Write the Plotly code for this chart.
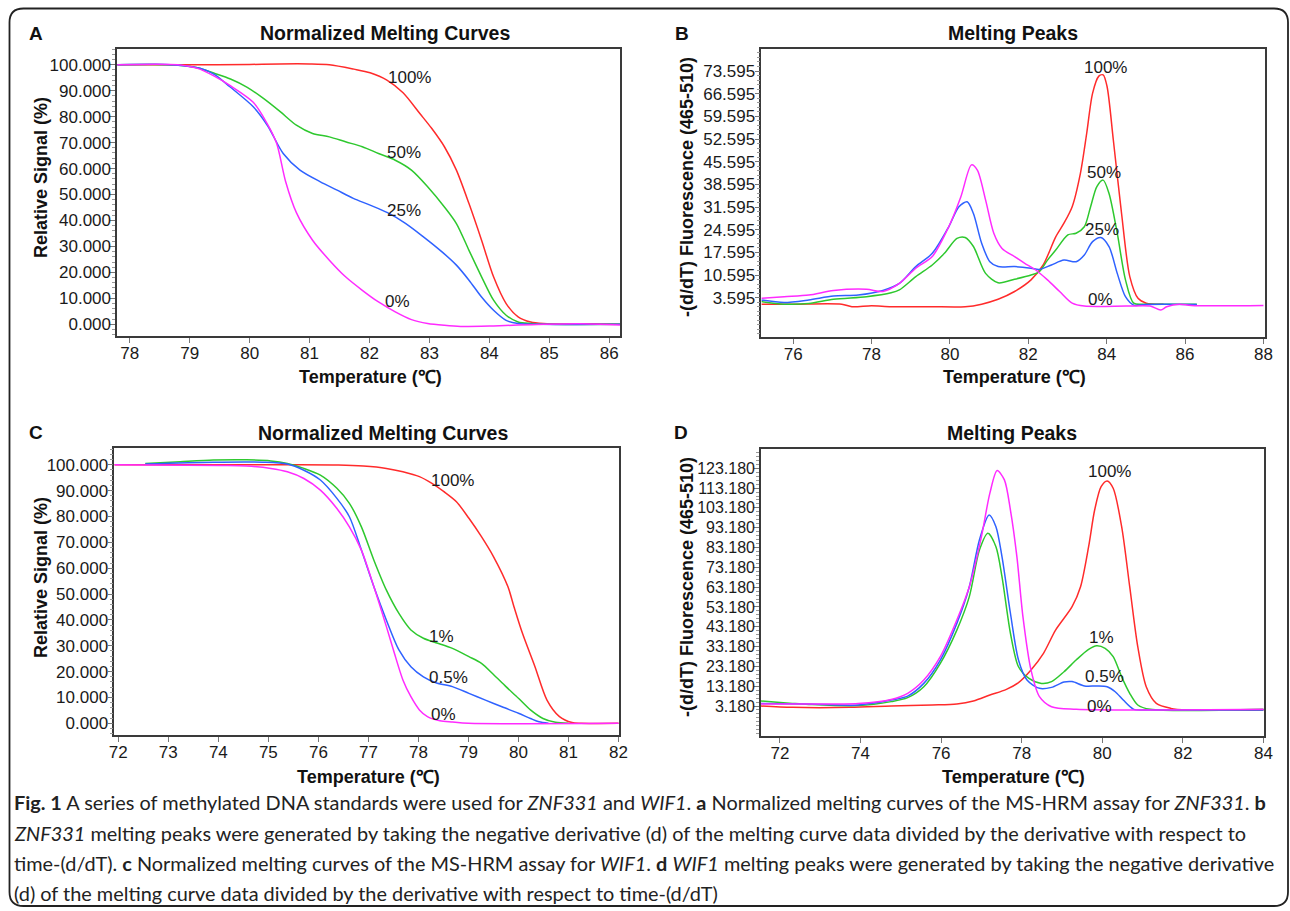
import plotly.graph_objects as go

W, H = 1290, 911
def px(x): return x / W
def py(y): return 1 - y / H

# ---------------- DATA ----------------
# Panel A: ZNF331 normalized melting curves
A_red_T = [77.79, 79.0, 80.0, 80.5, 81.0, 81.33, 81.74, 82.01, 82.29, 82.56, 82.84, 83.04, 83.25, 83.45, 83.66, 83.87, 84.07, 84.28, 84.48, 84.69, 84.9, 85.3, 85.7, 86.18]
A_red_V = [100.0, 100.0, 100.1, 100.3, 100.3, 100.0, 98.3, 96.9, 94.1, 89.2, 81.2, 75.4, 68.4, 59.4, 46.5, 32.4, 18.3, 8.0, 2.9, 0.9, 0.3, 0.1, 0.2, 0.0]
A_grn_T = [77.79, 78.6, 78.86, 79.13, 79.41, 79.68, 79.96, 80.23, 80.51, 80.78, 81.05, 81.33, 81.6, 81.88, 82.15, 82.43, 82.70, 82.97, 83.25, 83.45, 83.66, 83.87, 84.07, 84.28, 84.48, 84.69, 85.0, 86.18]
A_grn_V = [100.0, 100.0, 99.7, 98.8, 96.7, 94.5, 91.3, 87.0, 81.9, 76.7, 73.5, 72.2, 70.3, 68.4, 65.8, 63.2, 59.4, 53.0, 45.2, 38.8, 28.5, 18.3, 9.3, 3.5, 0.9, 0.3, 0.0, 0.0]
A_blu_T = [77.79, 78.6, 78.9, 79.17, 79.41, 79.67, 80.06, 80.3, 80.56, 80.84, 81.18, 81.45, 81.73, 82.0, 82.3, 82.6, 82.9, 83.2, 83.45, 83.66, 83.87, 84.07, 84.28, 84.48, 84.8, 86.18]
A_blu_V = [100.0, 100.1, 99.6, 98.6, 96.3, 91.5, 83.8, 76.5, 65.8, 59.4, 54.9, 51.8, 48.5, 46.0, 43.0, 38.9, 33.7, 28.1, 22.8, 17.0, 10.5, 5.4, 1.5, 0.3, 0.0, 0.0]
A_mag_T = [77.79, 78.8, 79.13, 79.41, 79.67, 80.06, 80.29, 80.45, 80.6, 80.78, 81.05, 81.33, 81.6, 81.88, 82.15, 82.43, 82.70, 82.97, 83.25, 83.52, 84.07, 84.48, 84.9, 85.5, 86.18]
A_mag_V = [100.0, 100.0, 98.6, 95.6, 92.0, 85.5, 77.4, 69.7, 55.0, 43.0, 32.4, 24.7, 18.3, 13.1, 8.6, 4.8, 1.8, 0.3, -0.4, -0.8, -0.6, -0.3, 0.0, 0.2, -0.3]
A_labels = ["100%", "50%", "25%", "0%"]
A_label_T = [82.67, 82.57, 82.57, 82.47]
A_label_V = [95.1, 66.1, 43.7, 8.6]

# Panel B: ZNF331 melting peaks
B_red_T = [75.19, 76.0, 77.24, 77.5, 78.0, 78.5, 79.5, 80.39, 80.81, 81.23, 81.65, 82.07, 82.38, 82.70, 82.91, 83.12, 83.33, 83.49, 83.64, 83.80, 83.91, 84.01, 84.17, 84.38, 84.59, 84.80, 85.01, 85.45]
B_red_V = [1.6, 1.6, 1.6, 0.8, 1.1, 0.8, 0.8, 0.8, 1.6, 3.1, 5.5, 9.1, 13.7, 22.4, 26.6, 31.7, 42.0, 54.3, 66.7, 72.0, 72.4, 68.8, 52.3, 29.6, 10.1, 3.4, 1.9, 1.6]
B_grn_T = [75.19, 75.77, 76.4, 77.03, 77.87, 78.5, 78.71, 79.13, 79.55, 79.86, 80.18, 80.39, 80.6, 80.91, 81.23, 81.65, 82.07, 82.28, 82.49, 82.7, 83.01, 83.22, 83.43, 83.59, 83.75, 83.91, 84.06, 84.27, 84.48, 84.69, 85.0, 86.3]
B_grn_V = [2.4, 1.6, 1.8, 3.1, 3.9, 5.1, 6.0, 10.1, 13.7, 17.3, 21.9, 22.2, 19.4, 11.1, 8.2, 9.3, 10.6, 11.6, 15.2, 18.3, 23.0, 23.5, 25.5, 31.7, 37.9, 39.9, 35.8, 23.5, 9.1, 1.9, 1.6, 1.6]
B_blu_T = [75.19, 75.77, 76.4, 77.03, 77.66, 78.29, 78.71, 79.13, 79.55, 79.97, 80.23, 80.44, 80.6, 80.81, 81.02, 81.23, 81.65, 82.07, 82.28, 82.59, 82.91, 83.22, 83.43, 83.64, 83.85, 84.06, 84.27, 84.48, 84.69, 85.0, 86.3]
B_blu_V = [2.9, 2.1, 2.9, 4.1, 4.4, 5.8, 8.0, 13.2, 17.3, 25.5, 31.7, 33.2, 29.6, 20.4, 14.7, 13.2, 13.2, 12.7, 12.3, 13.7, 15.2, 14.7, 16.8, 20.9, 22.2, 19.4, 11.1, 3.9, 1.3, 1.5, 1.5]
B_mag_T = [75.19, 75.77, 76.4, 77.03, 77.87, 78.29, 78.71, 79.13, 79.55, 79.97, 80.28, 80.55, 80.7, 80.91, 81.12, 81.33, 81.65, 81.91, 82.17, 82.49, 82.8, 83.12, 83.43, 84.5, 85.11, 85.38, 85.53, 85.85, 86.16, 88.0]
B_mag_V = [3.4, 3.9, 4.4, 5.8, 6.2, 5.5, 8.0, 12.7, 16.3, 25.5, 34.8, 44.6, 43.0, 33.8, 23.5, 18.8, 16.3, 14.2, 12.3, 9.1, 5.5, 1.9, 1.0, 1.0, 1.0, -0.2, 0.8, 1.6, 1.2, 1.2]
B_labels = ["100%", "50%", "25%", "0%"]
B_label_T = [83.96, 83.92, 83.87, 83.85]
B_label_V = [74.6, 42.2, 24.5, 2.9]

# Panel C: WIF1 normalized melting curves
C_red_T = [71.92, 74.0, 75.4, 76.4, 76.9, 77.36, 77.69, 78.02, 78.27, 78.51, 78.76, 79.01, 79.26, 79.5, 79.79, 79.91, 80.08, 80.33, 80.57, 80.82, 81.07, 81.25, 82.0]
C_red_V = [100.0, 100.0, 100.0, 99.9, 99.5, 98.6, 97.3, 95.4, 92.8, 89.6, 85.7, 79.3, 72.2, 64.5, 52.8, 45.1, 34.8, 21.9, 9.0, 2.6, 0.3, 0.0, 0.0]
C_grn_T = [72.54, 73.24, 73.9, 74.56, 75.05, 75.38, 75.71, 76.04, 76.37, 76.62, 76.86, 77.11, 77.36, 77.61, 77.85, 78.1, 78.35, 78.68, 79.01, 79.26, 79.51, 79.75, 80.0, 80.24, 80.49, 80.74, 81.0]
C_grn_V = [100.5, 101.2, 101.8, 101.9, 101.5, 100.5, 98.6, 96.0, 90.9, 85.1, 76.0, 63.1, 51.5, 42.5, 36.1, 32.9, 31.2, 29.0, 25.8, 23.2, 18.7, 14.2, 9.7, 5.2, 1.9, 0.4, 0.0]
C_blu_T = [72.54, 73.9, 74.89, 75.38, 75.71, 76.04, 76.37, 76.62, 76.86, 77.11, 77.36, 77.61, 77.85, 78.1, 78.35, 78.68, 79.01, 79.34, 79.67, 80.0, 80.24, 80.41, 80.6]
C_blu_V = [100.3, 101.0, 101.0, 100.3, 97.9, 94.1, 87.0, 79.9, 67.0, 52.8, 39.9, 28.4, 21.9, 18.0, 15.7, 14.2, 11.6, 9.0, 6.4, 3.9, 1.9, 0.6, 0.0]
C_mag_T = [71.92, 74.06, 74.56, 75.05, 75.38, 75.71, 76.04, 76.37, 76.62, 76.86, 77.11, 77.36, 77.52, 77.69, 77.85, 78.02, 78.18, 78.43, 78.68, 79.0, 82.0]
C_mag_V = [100.0, 99.7, 99.5, 98.6, 97.3, 94.7, 90.2, 83.1, 76.0, 67.0, 52.8, 37.4, 27.1, 16.8, 10.3, 5.2, 2.6, 1.0, 0.5, 0.0, 0.0]
C_labels = ["100%", "1%", "0.5%", "0%"]
C_label_T = [78.69, 78.46, 78.61, 78.5]
C_label_V = [93.8, 33.5, 17.7, 3.6]

# Panel D: WIF1 melting peaks
D_red_T = [71.53, 72.31, 73.74, 74.76, 75.78, 76.39, 76.8, 77.21, 77.62, 77.92, 78.23, 78.54, 78.84, 79.25, 79.46, 79.66, 79.81, 79.97, 80.12, 80.27, 80.48, 80.68, 80.88, 81.09, 81.34, 81.7, 82.11, 84.0]
D_red_V = [3.2, 2.5, 2.5, 3.2, 3.7, 4.2, 5.7, 8.7, 11.6, 15.0, 21.4, 29.8, 41.5, 53.3, 63.4, 83.6, 102.1, 113.9, 116.8, 113.1, 93.7, 63.4, 33.1, 12.9, 4.5, 2.0, 1.2, 1.2]
D_grn_T = [71.53, 72.31, 72.71, 73.94, 74.76, 75.17, 75.57, 75.98, 76.39, 76.7, 76.95, 77.16, 77.36, 77.51, 77.72, 77.92, 78.18, 78.49, 78.74, 79.05, 79.35, 79.66, 79.86, 80.07, 80.27, 80.48, 80.68, 80.88, 81.19, 84.0]
D_grn_V = [5.7, 4.5, 4.0, 3.4, 5.4, 7.4, 12.9, 24.7, 41.5, 58.4, 81.9, 90.4, 83.6, 68.5, 39.9, 23.0, 17.1, 14.6, 15.5, 20.5, 26.4, 31.8, 33.6, 32.3, 28.1, 17.9, 9.6, 3.7, 1.5, 1.5]
D_blu_T = [71.53, 72.71, 73.94, 74.76, 75.17, 75.57, 75.98, 76.39, 76.7, 76.95, 77.19, 77.36, 77.51, 77.72, 77.92, 78.13, 78.44, 78.74, 79.05, 79.25, 79.56, 79.86, 80.12, 80.32, 80.52, 80.78, 81.09, 84.0]
D_blu_V = [4.5, 4.2, 3.7, 6.2, 8.2, 14.6, 26.4, 44.9, 63.4, 87.0, 99.6, 93.7, 78.6, 50.0, 26.4, 16.3, 12.1, 12.6, 15.3, 15.5, 13.3, 13.3, 12.9, 10.4, 6.2, 1.5, 1.2, 1.2]
D_mag_T = [71.53, 72.71, 73.94, 74.76, 75.17, 75.57, 75.98, 76.39, 76.7, 77.0, 77.21, 77.39, 77.57, 77.72, 77.88, 78.03, 78.23, 78.44, 78.74, 79.35, 84.0]
D_mag_V = [4.2, 4.2, 4.5, 6.5, 9.6, 16.3, 28.1, 46.6, 63.4, 88.7, 110.6, 122.0, 117.3, 102.1, 78.6, 48.3, 21.4, 7.9, 2.8, 1.5, 1.5]
D_labels = ["100%", "1%", "0.5%", "0%"]
D_label_T = [80.19, 79.98, 80.06, 79.92]
D_label_V = [121.5, 37.85, 18.0, 2.8]

# Axis ticks
A_xticks = [78, 79, 80, 81, 82, 83, 84, 85, 86]
A_yticks = [0, 10, 20, 30, 40, 50, 60, 70, 80, 90, 100]
B_xticks = [76, 78, 80, 82, 84, 86, 88]
B_yticks = [3.595, 10.595, 17.595, 24.595, 31.595, 38.595, 45.595, 52.595, 59.595, 66.595, 73.595]
C_xticks = [72, 73, 74, 75, 76, 77, 78, 79, 80, 81, 82]
C_yticks = [0, 10, 20, 30, 40, 50, 60, 70, 80, 90, 100]
D_xticks = [72, 74, 76, 78, 80, 82, 84]
D_yticks = [3.18, 13.18, 23.18, 33.18, 43.18, 53.18, 63.18, 73.18, 83.18, 93.18, 103.18, 113.18, 123.18]

panel_letters = ["A", "B", "C", "D"]
panel_titles = ["Normalized Melting Curves", "Melting Peaks", "Normalized Melting Curves", "Melting Peaks"]
y_titles = ["Relative Signal (%)", "-(d/dT) Fluorescence (465-510)", "Relative Signal (%)", "-(d/dT) Fluorescence (465-510)"]
x_title = "Temperature (℃)"

caption_lines = [
    "<b>Fig. 1</b> A series of methylated DNA standards were used for <i>ZNF331</i> and <i>WIF1</i>. <b>a</b> Normalized melting curves of the MS-HRM assay for <i>ZNF331</i>. <b>b</b>",
    "<i>ZNF331</i> melting peaks were generated by taking the negative derivative (d) of the melting curve data divided by the derivative with respect to",
    "time-(d/dT). <b>c</b> Normalized melting curves of the MS-HRM assay for <i>WIF1</i>. <b>d</b> <i>WIF1</i> melting peaks were generated by taking the negative derivative",
    "(d) of the melting curve data divided by the derivative with respect to time-(d/dT)",
]

# ---------------- STYLE / LAYOUT ----------------
COL = {"red": "#ff2b2b", "grn": "#2ec82e", "blu": "#2f62ff", "mag": "#ff2bff"}
AX_FONT = "Liberation Sans, Arial, sans-serif"

panels = [
    dict(series=[(A_red_T, A_red_V, "red"), (A_grn_T, A_grn_V, "grn"), (A_blu_T, A_blu_V, "blu"), (A_mag_T, A_mag_V, "mag")],
         labels=(A_labels, A_label_T, A_label_V), xt=A_xticks, yt=A_yticks,
         xr=[77.79, 86.18], yr=[-4.5, 106.05], xd=[117.2, 620], yd=[49, 336],
         minor=dict(tick0=0, dtick=2), yfs=17),
    dict(series=[(B_red_T, B_red_V, "red"), (B_grn_T, B_grn_V, "grn"), (B_blu_T, B_blu_V, "blu"), (B_mag_T, B_mag_V, "mag")],
         labels=(B_labels, B_label_T, B_label_V), xt=B_xticks, yt=B_yticks,
         xr=[75.19, 88.04], yr=[-8.45, 80.39], xd=[761.4, 1265], yd=[49, 336.7],
         minor=dict(tick0=3.595, dtick=1.4), yfs=17),
    dict(series=[(C_red_T, C_red_V, "red"), (C_grn_T, C_grn_V, "grn"), (C_blu_T, C_blu_V, "blu"), (C_mag_T, C_mag_V, "mag")],
         labels=(C_labels, C_label_T, C_label_V), xt=C_xticks, yt=C_yticks,
         xr=[71.92, 82.01], yr=[-4.5, 106.6], xd=[114.3, 619], yd=[447.7, 735],
         minor=dict(tick0=0, dtick=2), yfs=17),
    dict(series=[(D_red_T, D_red_V, "red"), (D_grn_T, D_grn_V, "grn"), (D_blu_T, D_blu_V, "blu"), (D_mag_T, D_mag_V, "mag")],
         labels=(D_labels, D_label_T, D_label_V), xt=D_xticks, yt=D_yticks,
         xr=[71.53, 84.02], yr=[-11.8, 132.9], xd=[761, 1264.3], yd=[449, 735.7],
         minor=dict(tick0=3.18, dtick=2), yfs=16),
]

title_pos = [(385, 33), (1013, 33), (383, 433), (1012, 433)]
letter_pos = [(36, 33), (682, 33), (36, 433), (681, 433)]
ytitle_pos = [(41, 178), (687, 187), (41, 578), (687, 587)]
xtitle_pos = [(370, 377), (1015, 377), (368, 777), (1013, 777)]

fig = go.Figure()
layout = dict(
    width=W, height=H, autosize=False,
    margin=dict(l=0, r=0, t=0, b=0, pad=0, autoexpand=False),
    paper_bgcolor="white", plot_bgcolor="white", showlegend=False,
    annotations=[], shapes=[],
)

for i, p in enumerate(panels):
    n = "" if i == 0 else str(i + 1)
    xa, ya = "x" + n, "y" + n
    for T, V, c in p["series"]:
        fig.add_trace(go.Scatter(x=T, y=V, mode="lines", xaxis=xa, yaxis=ya,
                                 line=dict(color=COL[c], width=1.5, shape="spline", smoothing=0.8),
                                 hoverinfo="skip"))
    axis_common = dict(showgrid=False, zeroline=False, showline=True, mirror=True,
                       automargin=False,
                       linecolor="#3a3a3a", linewidth=1.6, ticks="outside",
                       tickcolor="#777", tickwidth=1, ticklen=5)
    layout["xaxis" + n] = dict(axis_common, domain=[px(p["xd"][0]), px(p["xd"][1])],
                               range=p["xr"], tickmode="array", tickvals=p["xt"],
                               ticktext=[str(v) for v in p["xt"]],
                               tickfont=dict(family=AX_FONT, size=17, color="#1a1a1a"),
                               ticklabelstandoff=-4,
                               anchor=ya)
    layout["yaxis" + n] = dict(axis_common, domain=[py(p["yd"][1]), py(p["yd"][0])],
                               range=p["yr"], tickmode="array", tickvals=p["yt"],
                               ticktext=["%.3f" % v for v in p["yt"]],
                               tickfont=dict(family=AX_FONT, size=p["yfs"], color="#1a1a1a"),
                               ticklabelstandoff=-4,
                               anchor=xa,
                               minor=dict(tickmode="linear", tick0=p["minor"]["tick0"],
                                          dtick=p["minor"]["dtick"], ticks="outside",
                                          ticklen=3, tickcolor="#999", tickwidth=1))
    labs, lt, lv = p["labels"]
    for t, x, y in zip(labs, lt, lv):
        layout["annotations"].append(dict(text=t, x=x, y=y, xref=xa, yref=ya, showarrow=False,
                                          xanchor="center", yanchor="middle",
                                          font=dict(family=AX_FONT, size=17, color="#1a1a1a")))
    tx, ty = title_pos[i]
    layout["annotations"].append(dict(text="<b>" + panel_titles[i] + "</b>", x=px(tx), y=py(ty),
                                      xref="paper", yref="paper", showarrow=False,
                                      xanchor="center", yanchor="middle",
                                      font=dict(family=AX_FONT, size=19.5, color="#111")))
    lx, ly = letter_pos[i]
    layout["annotations"].append(dict(text="<b>" + panel_letters[i] + "</b>", x=px(lx), y=py(ly),
                                      xref="paper", yref="paper", showarrow=False,
                                      xanchor="center", yanchor="middle",
                                      font=dict(family=AX_FONT, size=19, color="#111")))
    yx, yy = ytitle_pos[i]
    layout["annotations"].append(dict(text="<b>" + y_titles[i] + "</b>", x=px(yx), y=py(yy),
                                      xref="paper", yref="paper", showarrow=False, textangle=-90,
                                      xanchor="center", yanchor="middle",
                                      font=dict(family=AX_FONT, size=18, color="#111")))
    xx, xy = xtitle_pos[i]
    layout["annotations"].append(dict(text="<b>" + x_title + "</b>", x=px(xx), y=py(xy),
                                      xref="paper", yref="paper", showarrow=False,
                                      xanchor="center", yanchor="middle",
                                      font=dict(family=AX_FONT, size=18, color="#111")))

cap_y = [802, 833, 863, 893]
for line, y in zip(caption_lines, cap_y):
    layout["annotations"].append(dict(text=line, x=px(12), y=py(y), xref="paper", yref="paper",
                                      showarrow=False, xanchor="left", yanchor="middle",
                                      font=dict(family="Lato, Liberation Sans, sans-serif", size=19.9, color="#222")))

# rounded outer border
l, t, r_, b, rad = 9.5, 8.5, 1288, 906, 14
path = (f"M {px(l+rad)},{py(t)} L {px(r_-rad)},{py(t)} Q {px(r_)},{py(t)} {px(r_)},{py(t+rad)} "
        f"L {px(r_)},{py(b-rad)} Q {px(r_)},{py(b)} {px(r_-rad)},{py(b)} "
        f"L {px(l+rad)},{py(b)} Q {px(l)},{py(b)} {px(l)},{py(b-rad)} "
        f"L {px(l)},{py(t+rad)} Q {px(l)},{py(t)} {px(l+rad)},{py(t)} Z")
layout["shapes"].append(dict(type="path", path=path, xref="paper", yref="paper",
                             line=dict(color="#222", width=1.8), layer="below"))

fig.update_layout(**layout)
fig.write_html("out.html", config={"displayModeBar": False, "responsive": False},
               post_script="document.body.style.margin='0';document.body.style.overflow='hidden';")
